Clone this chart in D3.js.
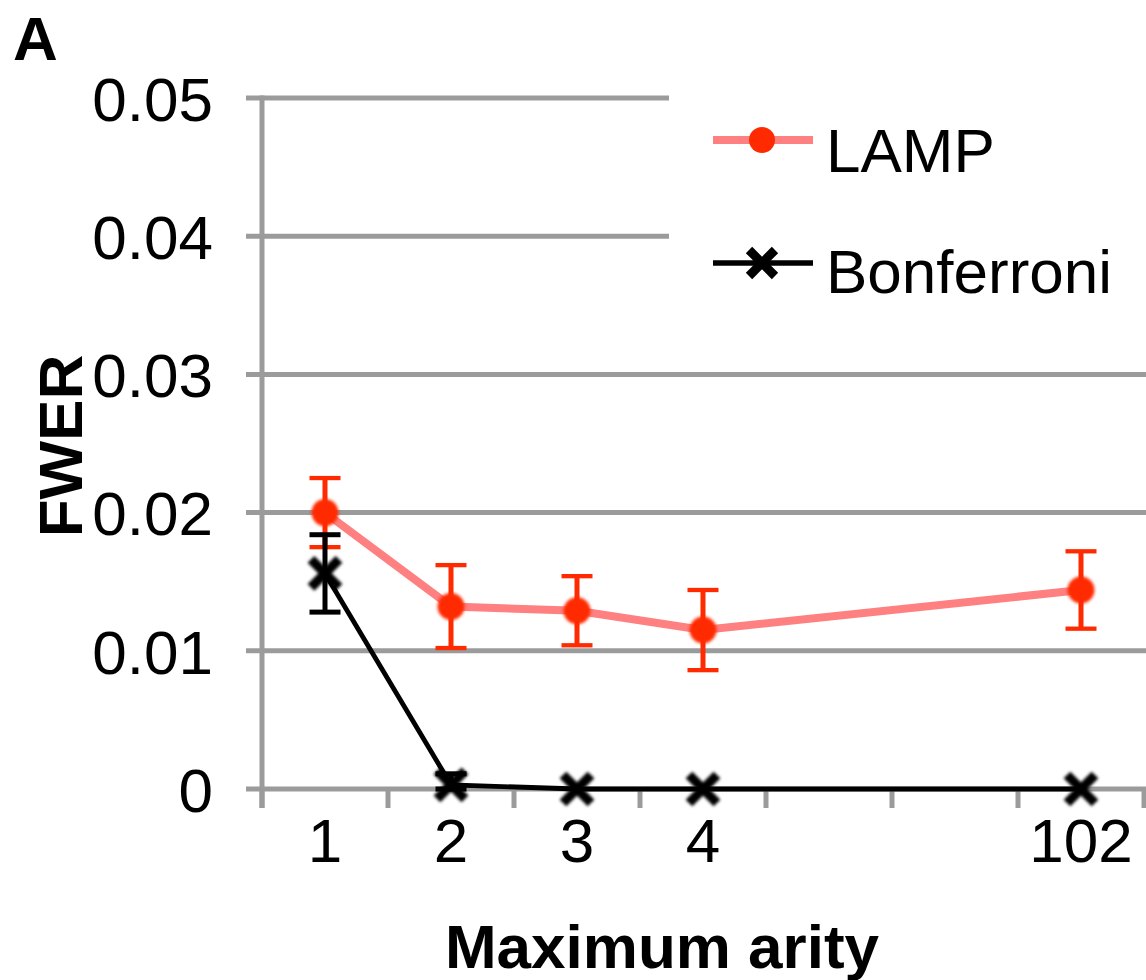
<!DOCTYPE html>
<html>
<head>
<meta charset="utf-8">
<script src="https://cdn.jsdelivr.net/npm/d3@7"></script>
<style>
  html, body { margin: 0; padding: 0; background: #fff; }
  svg { display: block; }
  text { font-family: "Liberation Sans", Arial, Helvetica, sans-serif; fill: #000; }
</style>
</head>
<body>
<svg id="chart" width="1146" height="980"></svg>
<script>
// Maximum arity categories (two unlabelled slots between 4 and 102)
const arityLabels = ["1", "2", "3", "4", "", "", "102"];

// Family-wise error rate per method, with error bar half-widths
const lampFWER   = [0.0200, 0.0132, 0.0129, 0.0115, null, null, 0.0144];
const lampErr    = [0.0025, 0.0030, 0.0025, 0.0029, null, null, 0.0028];
const bonfFWER   = [0.0156, 0.0003, 0.0000, 0.0000, null, null, 0.0000];
const bonfErr    = [0.0028, 0.0008, 0.0000, 0.0000, null, null, 0.0000];

const yTicks = [0, 0.01, 0.02, 0.03, 0.04, 0.05];

const svg = d3.select("#chart");
const W = 1146, H = 980;

const x = d3.scaleBand()
  .domain(d3.range(arityLabels.length))
  .range([262, 1144])
  .paddingInner(0).paddingOuter(0);
const y = d3.scaleLinear().domain([0, 0.05]).range([789, 98]);
const cx = i => x(i) + x.bandwidth() / 2;

const gridColor = "#9b9b9b";
const lampLine = "#ff8080";
const lampRed = "#ff2a00";

// soft edge on plotted markers
const defs = svg.append("defs");
defs.append("filter").attr("id", "soft")
  .attr("x", "-50%").attr("y", "-50%").attr("width", "200%").attr("height", "200%")
  .append("feGaussianBlur").attr("stdDeviation", 1.5);

// Horizontal gridlines (with outward tick stubs on the left)
svg.append("g").selectAll("line").data(yTicks).join("line")
  .attr("x1", 246).attr("x2", W + 4)
  .attr("y1", d => y(d)).attr("y2", d => y(d))
  .attr("stroke", gridColor).attr("stroke-width", 5);

// Vertical axis line
svg.append("line")
  .attr("x1", 262).attr("x2", 262)
  .attr("y1", y(0.05) - 2.5).attr("y2", y(0) + 19)
  .attr("stroke", gridColor).attr("stroke-width", 5);

// Category boundary ticks on the x axis
const bounds = d3.range(arityLabels.length + 1).map(i => 262 + i * x.step());
svg.append("g").selectAll("line").data(bounds).join("line")
  .attr("x1", d => d).attr("x2", d => d)
  .attr("y1", y(0)).attr("y2", y(0) + 19)
  .attr("stroke", gridColor).attr("stroke-width", 5);

// Y axis labels
const yAxis = d3.axisLeft(y).tickValues(yTicks).tickSize(0).tickPadding(0)
  .tickFormat(d => d === 0 ? "0" : d3.format(".2f")(d));
const gy = svg.append("g").attr("transform", "translate(213,0)").call(yAxis);
gy.select(".domain").remove();
gy.selectAll("text").attr("font-size", 62).attr("fill", "#000")
  .attr("font-family", "Liberation Sans, Arial, sans-serif").attr("x", 0).attr("dy", "0.36em");

// X axis labels
const xAxis = d3.axisBottom(x).tickSize(0).tickPadding(0).tickFormat(i => arityLabels[i]);
const gx = svg.append("g").attr("transform", "translate(0,862)").call(xAxis);
gx.select(".domain").remove();
gx.selectAll("text").attr("font-size", 62).attr("fill", "#000")
  .attr("font-family", "Liberation Sans, Arial, sans-serif").attr("dy", 0).attr("y", 0);

// Axis titles and panel letter
svg.append("text").attr("x", 662).attr("y", 968).attr("text-anchor", "middle")
  .attr("font-size", 62).attr("font-weight", "bold").text("Maximum arity");
svg.append("text").attr("transform", "translate(82,446) rotate(-90)")
  .attr("text-anchor", "middle").attr("font-size", 62).attr("font-weight", "bold").text("FWER");
svg.append("text").attr("x", 13).attr("y", 60)
  .attr("font-size", 62).attr("font-weight", "bold").text("A");

// Series helpers
const pts = (vals, errs) => vals.map((v, i) => ({ i, v, e: errs[i] })).filter(d => d.v !== null);
const lampPts = pts(lampFWER, lampErr);
const bonfPts = pts(bonfFWER, bonfErr);
const line = d3.line().x(d => cx(d.i)).y(d => y(d.v));

function errorBars(g, data, color, stemWidth, capWidth) {
  const eb = g.append("g").attr("stroke", color).attr("fill", "none");
  data.filter(d => d.e > 0).forEach(d => {
    const hi = d.v + d.e, lo = Math.max(0, d.v - d.e);
    eb.append("line").attr("stroke-width", stemWidth)
      .attr("x1", cx(d.i)).attr("x2", cx(d.i)).attr("y1", y(hi)).attr("y2", y(lo));
    [hi, lo].forEach(v => eb.append("line").attr("stroke-width", capWidth)
      .attr("x1", cx(d.i) - 15.5).attr("x2", cx(d.i) + 15.5).attr("y1", y(v)).attr("y2", y(v)));
  });
}

const xPath = r => `M${-r},${-r}L${r},${r}M${-r},${r}L${r},${-r}`;

// LAMP series
const gL = svg.append("g");
gL.append("path").datum(lampPts).attr("d", line)
  .attr("fill", "none").attr("stroke", lampLine).attr("stroke-width", 8);
errorBars(gL, lampPts, lampRed, 5, 4.3);
gL.append("g").attr("filter", "url(#soft)").selectAll("circle").data(lampPts).join("circle")
  .attr("cx", d => cx(d.i)).attr("cy", d => y(d.v)).attr("r", 13.5).attr("fill", lampRed);

// Bonferroni series
const gB = svg.append("g");
gB.append("path").datum(bonfPts).attr("d", line)
  .attr("fill", "none").attr("stroke", "#000").attr("stroke-width", 4.8);
errorBars(gB, bonfPts, "#000", 5, 5);
gB.append("g").attr("filter", "url(#soft)").selectAll("path").data(bonfPts).join("path")
  .attr("transform", d => `translate(${cx(d.i)},${y(d.v)})`)
  .attr("d", xPath(14)).attr("stroke", "#000").attr("stroke-width", 9.5).attr("fill", "none");

// Legend (white panel over the top-right gridlines)
const lg = svg.append("g");
lg.append("rect").attr("x", 669).attr("y", 70).attr("width", 490).attr("height", 270).attr("fill", "#fff");
lg.append("line").attr("x1", 713).attr("x2", 813).attr("y1", 140).attr("y2", 140)
  .attr("stroke", lampLine).attr("stroke-width", 8);
lg.append("circle").attr("cx", 762).attr("cy", 140).attr("r", 13).attr("fill", lampRed);
lg.append("text").attr("x", 826).attr("y", 172).attr("font-size", 62).text("LAMP");
lg.append("line").attr("x1", 713).attr("x2", 813).attr("y1", 263).attr("y2", 263)
  .attr("stroke", "#000").attr("stroke-width", 5.5);
lg.append("path").attr("transform", "translate(762,263)").attr("d", xPath(13))
  .attr("stroke", "#000").attr("stroke-width", 9).attr("fill", "none");
lg.append("text").attr("x", 826).attr("y", 293).attr("font-size", 62).text("Bonferroni");
</script>
</body>
</html>
